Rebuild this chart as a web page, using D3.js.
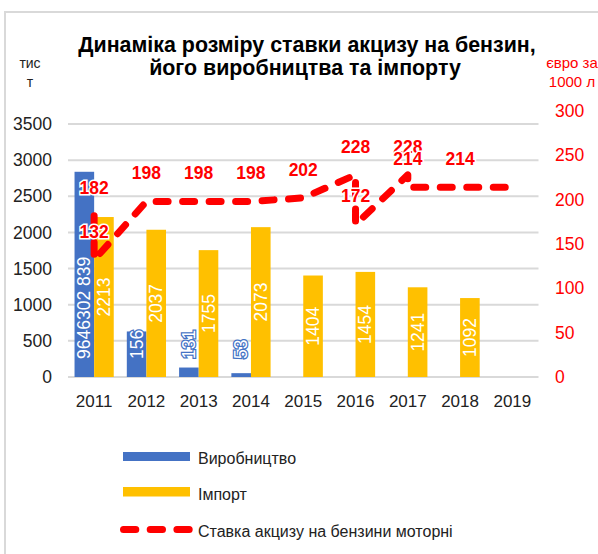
<!DOCTYPE html>
<html>
<head>
<meta charset="utf-8">
<script src="https://cdn.jsdelivr.net/npm/d3@7"></script>
<style>
  body { margin: 0; background: #fff; }
  svg { font-family: "Liberation Sans", Arial, sans-serif; }
</style>
</head>
<body>
<svg id="chart" width="598" height="554"></svg>
<script>
const years = ["2011", "2012", "2013", "2014", "2015", "2016", "2017", "2018", "2019"];
const production = [2839, 630, 131, 53, null, null, null, null, null];
const productionLabels = ["9646302 839", "156", "131", "53", null, null, null, null, null];
const imports = [2213, 2037, 1755, 2073, 1404, 1454, 1241, 1092, null];
const exciseYears = ["2011", "2011", "2012", "2013", "2014", "2015", "2016", "2016", "2017", "2017", "2018", "2019"];
const exciseRate = [182, 132, 198, 198, 198, 202, 228, 172, 228, 214, 214, 214];
const exciseLabels = ["182", "132", "198", "198", "198", "202", "228", "172", "228", "214", "214", null];
const leftTicks = [0, 500, 1000, 1500, 2000, 2500, 3000, 3500];
const rightTicks = [0, 50, 100, 150, 200, 250, 300];

const svg = d3.select("#chart");
const blue = "#4472C4", gold = "#FFC000", red = "#FF0000", ink = "#222";

// chart border
svg.append("rect")
  .attr("x", 5).attr("y", 12)
  .attr("width", 700).attr("height", 700)
  .attr("fill", "none")
  .attr("stroke", "#d9d9d9")
  .attr("stroke-width", 2);

const x = d3.scaleBand()
  .domain(years)
  .range([68, 538.5])
  .paddingInner(0.25)
  .paddingOuter(0.125);

const sub = d3.scaleBand()
  .domain(["prod", "imp"])
  .range([0, x.bandwidth()]);

const yLeft = d3.scaleLinear().domain([0, 3500]).range([377, 124]);
const yRight = d3.scaleLinear().domain([0, 300]).range([377, 111]);

// grid
svg.selectAll(".grid")
  .data(leftTicks)
  .join("line")
    .attr("class", "grid")
    .attr("x1", 68).attr("x2", 538.5)
    .attr("y1", d => yLeft(d)).attr("y2", d => yLeft(d))
    .attr("stroke", "#d9d9d9")
    .attr("stroke-width", 2);

// left axis labels
svg.selectAll(".ltick")
  .data(leftTicks)
  .join("text")
    .attr("class", "ltick")
    .attr("x", 52)
    .attr("y", d => yLeft(d))
    .attr("dy", "0.35em")
    .attr("text-anchor", "end")
    .style("font-size", "17.5px")
    .attr("fill", ink)
    .text(d => d);

// right axis labels
svg.selectAll(".rtick")
  .data(rightTicks)
  .join("text")
    .attr("class", "rtick")
    .attr("x", 555)
    .attr("y", d => yRight(d))
    .attr("dy", "0.35em")
    .attr("text-anchor", "start")
    .style("font-size", "17.5px")
    .attr("fill", red)
    .text(d => d);

// x labels
svg.selectAll(".xlab")
  .data(years)
  .join("text")
    .attr("class", "xlab")
    .attr("x", d => x(d) + x.bandwidth() / 2)
    .attr("y", 407)
    .attr("text-anchor", "middle")
    .style("font-size", "17px")
    .attr("fill", ink)
    .text(d => d);

const prodData = years.map((y, i) => ({ year: y, v: production[i], label: productionLabels[i] }))
  .filter(d => d.v != null);
const impData = years.map((y, i) => ({ year: y, v: imports[i] }))
  .filter(d => d.v != null);

svg.selectAll(".bar-prod")
  .data(prodData)
  .join("rect")
    .attr("class", "bar-prod")
    .attr("x", d => x(d.year) + sub("prod"))
    .attr("width", sub.bandwidth())
    .attr("y", d => yLeft(d.v))
    .attr("height", d => yLeft(0) - yLeft(d.v))
    .attr("fill", blue);

svg.selectAll(".bar-imp")
  .data(impData)
  .join("rect")
    .attr("class", "bar-imp")
    .attr("x", d => x(d.year) + sub("imp"))
    .attr("width", sub.bandwidth())
    .attr("y", d => yLeft(d.v))
    .attr("height", d => yLeft(0) - yLeft(d.v))
    .attr("fill", gold);

// bar labels
svg.selectAll(".lab-prod")
  .data(prodData)
  .join("text")
    .attr("class", "lab-prod")
    .attr("transform", d => `translate(${x(d.year) + sub("prod") + sub.bandwidth() / 2},359) rotate(-90)`)
    .attr("dy", "0.35em")
    .attr("text-anchor", "start")
    .style("font-size", "17.5px")
    .attr("fill", "#fff")
    .attr("stroke", blue)
    .attr("stroke-width", 2.5)
    .attr("paint-order", "stroke")
    .text(d => d.label);

svg.selectAll(".lab-imp")
  .data(impData)
  .join("text")
    .attr("class", "lab-imp")
    .attr("transform", d => `translate(${x(d.year) + sub("imp") + sub.bandwidth() / 2},${(yLeft(d.v) + yLeft(0)) / 2}) rotate(-90)`)
    .attr("dy", "0.35em")
    .attr("text-anchor", "middle")
    .style("font-size", "17.5px")
    .attr("fill", "#fff")
    .text(d => d.v);

// excise line
const rateData = exciseYears.map((y, i) => ({ year: y, v: exciseRate[i], label: exciseLabels[i] }));
const line = d3.line()
  .x(d => x(d.year) + x.bandwidth() / 2)
  .y(d => yRight(d.v));

svg.append("path")
  .datum(rateData)
  .attr("d", line)
  .attr("fill", "none")
  .attr("stroke", red)
  .attr("stroke-width", 7)
  .attr("stroke-linecap", "round")
  .attr("stroke-linejoin", "round")
  .attr("stroke-dasharray", "12,14.5");

svg.selectAll(".rate-lab")
  .data(rateData.filter(d => d.label))
  .join("text")
    .attr("class", "rate-lab")
    .attr("x", d => x(d.year) + x.bandwidth() / 2)
    .attr("y", d => yRight(d.v) - 22)
    .attr("text-anchor", "middle")
    .style("font-size", "17.5px")
    .style("font-weight", "bold")
    .attr("fill", red)
    .attr("stroke", "#fff")
    .attr("stroke-width", 3)
    .attr("paint-order", "stroke")
    .text(d => d.label);

// title
const title = svg.append("text")
  .attr("text-anchor", "middle")
  .style("font-size", "21.4px")
  .style("font-weight", "bold")
  .attr("fill", "#000");
title.append("tspan").attr("x", 307).attr("y", 52).text("Динаміка розміру ставки акцизу на бензин,");
title.append("tspan").attr("x", 305).attr("y", 75).text("його виробництва та імпорту");

// axis units
const unitL = svg.append("text")
  .attr("text-anchor", "middle")
  .style("font-size", "14px")
  .attr("fill", ink);
unitL.append("tspan").attr("x", 30).attr("y", 68).text("тис");
unitL.append("tspan").attr("x", 30).attr("y", 87).text("т");

const unitR = svg.append("text")
  .attr("text-anchor", "middle")
  .style("font-size", "15px")
  .attr("fill", red);
unitR.append("tspan").attr("x", 572).attr("y", 68).text("євро за");
unitR.append("tspan").attr("x", 572).attr("y", 87).text("1000 л");

// legend
const legend = svg.append("g");
legend.append("rect").attr("x", 123).attr("y", 452).attr("width", 67).attr("height", 9).attr("fill", blue);
legend.append("text").attr("x", 198).attr("y", 464).style("font-size", "16px").attr("fill", ink).text("Виробництво");
legend.append("rect").attr("x", 123).attr("y", 487).attr("width", 67).attr("height", 9.5).attr("fill", gold);
legend.append("text").attr("x", 198).attr("y", 500).style("font-size", "16px").attr("fill", ink).text("Імпорт");
legend.append("line")
  .attr("x1", 123.5).attr("x2", 189.5)
  .attr("y1", 529.5).attr("y2", 529.5)
  .attr("stroke", red)
  .attr("stroke-width", 7)
  .attr("stroke-linecap", "round")
  .attr("stroke-dasharray", "12.3,14.4");
legend.append("text").attr("x", 198).attr("y", 537).style("font-size", "16px").attr("fill", ink).text("Ставка акцизу на бензини моторні");
</script>
</body>
</html>
